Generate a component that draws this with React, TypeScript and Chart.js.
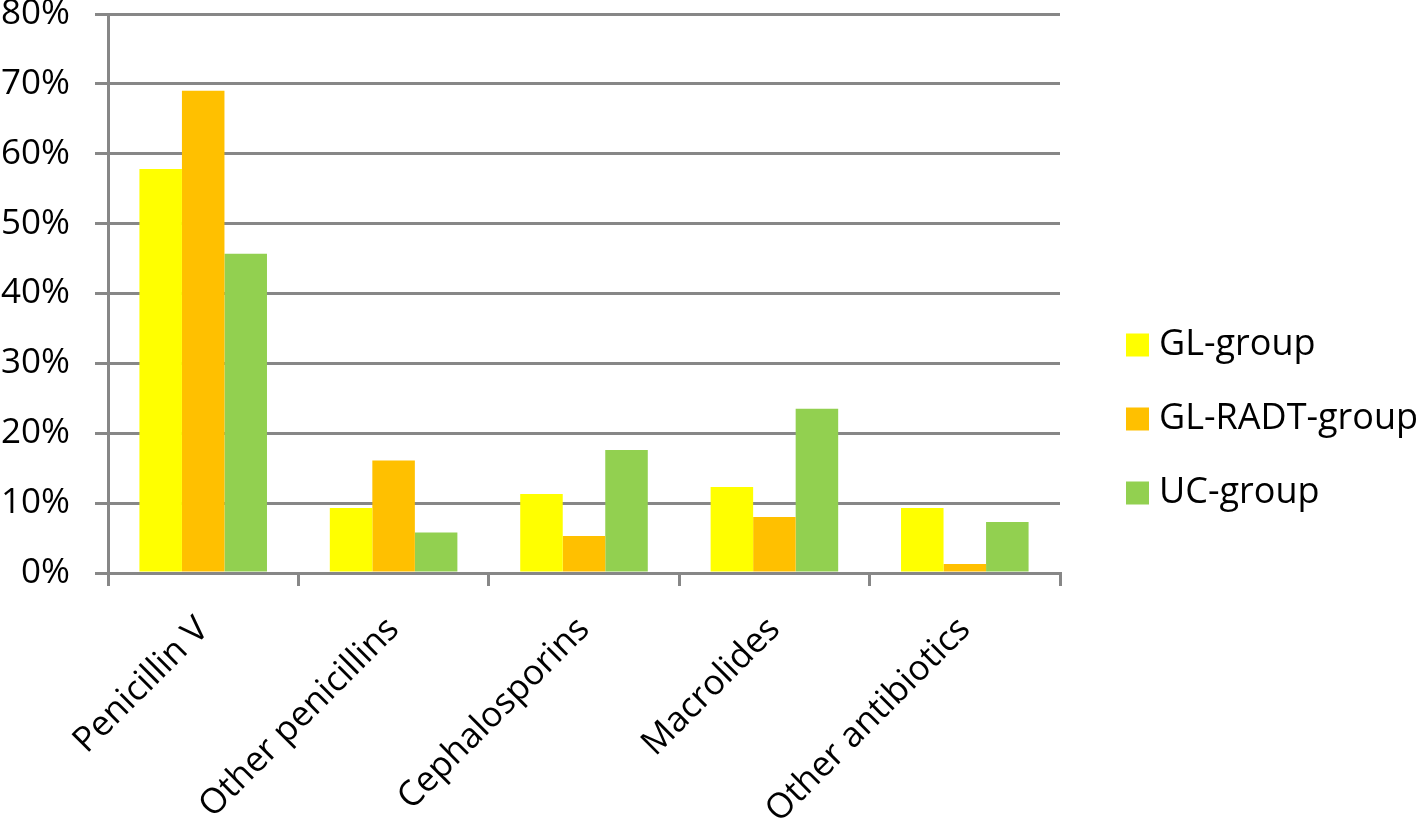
import React, { useEffect, useRef } from "react";
import { Chart, registerables } from "chart.js";

Chart.register(...registerables);

const categories = ["Penicillin V", "Other penicillins", "Cephalosporins", "Macrolides", "Other antibiotics"];
const glGroup = [57.8, 9.3, 11.3, 12.3, 9.3];
const glRadtGroup = [69.0, 16.1, 5.3, 8.0, 1.3];
const ucGroup = [45.7, 5.8, 17.6, 23.5, 7.3];
const seriesNames = ["GL-group", "GL-RADT-group", "UC-group"];
const seriesColors = ["#FFFF00", "#FFC000", "#92D050"];
const yTicks = [0, 10, 20, 30, 40, 50, 60, 70, 80];

const FONT = "'Open Sans'";
const FS = 35;
const GRID = "#878787";

const sideLegend = {
  id: "sideLegend",
  afterDraw(chart: any) {
    const ctx = chart.ctx;
    const x0 = chart.chartArea.right + 66;
    const cy = chart.height / 2 + 8;
    const gap = 74;
    const n = chart.data.datasets.length;
    ctx.save();
    ctx.font = `36px ${FONT}`;
    ctx.textBaseline = "middle";
    ctx.textAlign = "left";
    chart.data.datasets.forEach((ds: any, i: number) => {
      const y = cy + (i - (n - 1) / 2) * gap;
      ctx.fillStyle = ds.backgroundColor;
      ctx.fillRect(x0, y - 11.5, 23, 23);
      ctx.fillStyle = "#000";
      ctx.fillText(ds.label, x0 + 33, y);
    });
    ctx.restore();
  },
};

export default function App() {
  const ref = useRef<HTMLCanvasElement | null>(null);
  useEffect(() => {
    document.body.style.margin = "0";
    const ctx = ref.current!;
    const values = [glGroup, glRadtGroup, ucGroup];
    const chart = new Chart(ctx, {
      type: "bar",
      data: {
        labels: categories,
        datasets: values.map((v, i) => ({
          label: seriesNames[i],
          data: v,
          backgroundColor: seriesColors[i],
          borderWidth: 0,
          barPercentage: 1,
          categoryPercentage: 0.67,
        })),
      },
      plugins: [sideLegend],
      options: {
        animation: false,
        responsive: false,
        maintainAspectRatio: false,
        layout: { padding: { top: 0, right: 357, left: 0, bottom: 0 } },
        plugins: {
          tooltip: { enabled: false },
          legend: { display: false },
        },
        scales: {
          x: {
            afterFit: (scale: any) => {
              scale.paddingLeft = 0;
              scale.paddingRight = 0;
              scale.height = 249;
            },
            grid: {
              offset: true,
              drawOnChartArea: false,
              drawTicks: true,
              tickLength: 13,
              color: GRID,
              lineWidth: 3,
            },
            border: { color: GRID, width: 3 },
            ticks: {
              color: "#000",
              font: { family: FONT, size: FS },
              maxRotation: 45,
              minRotation: 45,
              autoSkip: false,
              padding: 23,
            },
          },
          y: {
            min: 0,
            max: 80,
            afterBuildTicks: (axis: any) => {
              axis.ticks = yTicks.map((v) => ({ value: v }));
            },
            afterFit: (scale: any) => {
              scale.paddingTop = 14;
              scale.paddingBottom = 0;
              scale.width = 108;
            },
            grid: {
              color: GRID,
              lineWidth: 3,
              drawTicks: true,
              tickLength: 13,
            },
            border: { color: GRID, width: 3 },
            ticks: {
              color: "#000",
              font: { family: FONT, size: FS },
              padding: 25,
              callback: (v: any) => v + "%",
            },
          },
        },
      },
    });
    return () => chart.destroy();
  }, []);
  return (
    <div style={{ width: 1417, height: 822 }}>
      <canvas ref={ref} width={1417} height={822} style={{ display: "block" }} />
    </div>
  );
}
